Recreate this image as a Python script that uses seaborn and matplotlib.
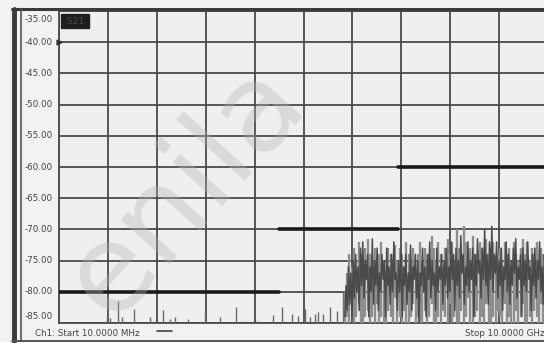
import numpy as np
import pandas as pd
import matplotlib
matplotlib.use("Agg")
import matplotlib.pyplot as plt
import seaborn as sns

# ---------------- data ----------------
start_ghz = 0.01
stop_ghz = 10.0
y_ticks = [-35, -40, -45, -50, -55, -60, -65, -70, -75, -80, -85]

# limit lines (start GHz, stop GHz, level dB)
limit_start = [0.01, 4.5, 6.93]
limit_stop = [4.5, 6.93, 10.0]
limit_level = [-80.0, -70.0, -60.0]

# isolated low-level spurs below ~5.8 GHz
spur_freq = [1.00, 1.06, 1.21, 1.29, 1.55, 1.86, 2.13, 2.27, 2.37, 2.64, 2.99,
             3.29, 3.62, 3.74, 4.05, 4.38, 4.56, 4.76, 4.89, 5.03, 5.14, 5.24,
             5.30, 5.40, 5.54, 5.69, 5.81]
spur_level = [-83.5, -84.2, -81.5, -84.0, -82.7, -84.0, -82.9, -84.3, -84.0,
              -84.3, -83.3, -84.1, -82.5, -84.7, -84.7, -83.7, -82.5, -83.5,
              -83.8, -82.8, -84.0, -83.5, -83.2, -83.6, -82.5, -83.0, -79.9]

noise_start_ghz = 5.85

# per-bin max / min of the noise (light envelope)
noise_peak = [-80, -77, -74, -76, -73, -75, -72, -74, -76, -73, -71.5, -74, -75,
              -73, -76, -74, -72, -75, -77, -73, -74, -76, -72.5, -75, -73, -74,
              -76, -72, -74, -75, -73, -77, -74, -72, -75, -73, -76, -74, -71,
              -73, -75, -72, -74, -76, -73, -71.5, -74, -72, -75, -70, -73, -74,
              -69.5, -72, -75, -73, -71, -74, -76, -72, -73, -75, -71.5, -74,
              -73, -72, -76, -74, -73, -75, -72, -74, -73, -76, -72, -74, -75,
              -73, -71.5, -74, -72, -75, -73, -74, -72, -76, -73, -74, -72, -75]
noise_floor = [-85, -84, -85, -83, -85, -84, -82, -85, -85, -84, -83, -85, -84,
               -85, -82, -85, -84, -85, -85, -83, -84, -85, -81, -85, -84, -85,
               -83, -85, -85, -84, -82, -85, -84, -85, -85, -83, -85, -84, -82,
               -85, -85, -84, -85, -83, -84, -85, -82, -85, -84, -85, -85, -83,
               -85, -84, -81, -85, -85, -84, -83, -85, -84, -85, -82, -85, -85,
               -84, -85, -83, -84, -85, -82, -85, -84, -85, -85, -83, -85, -84,
               -82, -85, -85, -84, -85, -83, -84, -85, -82, -85, -84, -85]

# dense noise trace (dark core)
noise_db = [
    -84, -79, -83, -76, -82, -77, -84, -75, -81, -74, -80, -76,
    -83, -73, -79, -72, -81, -75, -78, -74, -84, -76, -80, -71.5, -82, -75,
    -79, -73, -83, -77, -80, -74, -78, -75, -84, -73, -79, -76, -82, -74,
    -80, -72, -78, -77, -83,
    -75, -80, -73, -84, -76, -79, -74, -82, -77, -80, -72.5, -83, -76, -78,
    -74, -81, -75, -85, -77, -79, -73, -80, -76, -84, -74, -78, -72, -81,
    -75, -79, -77, -83, -73, -80, -76, -78, -74, -82, -75, -79, -73, -81,
    -76, -80, -72, -78, -74, -83, -73, -79, -75, -81, -71, -77, -74, -82,
    -76, -79, -72, -80, -75, -78, -73, -84, -74, -79, -71.5, -77, -75, -81,
    -73, -78, -70, -79, -74, -82, -72, -78, -69.5, -80, -74, -77, -72, -81,
    -75, -79, -73, -83, -76, -78, -72, -80, -74, -82, -75, -79, -73, -77,
    -71.5, -81, -76, -78, -74, -84, -73, -79, -75, -80, -72, -78, -76, -83,
    -74, -79, -73, -81, -75, -78, -72, -80, -76, -82, -74, -79, -73, -80,
]

# ---------------- figure ----------------
sns.set_theme(style="white")
plt.rcParams['font.family'] = ['DejaVu Sans']

W, H = 544, 343
fig = plt.figure(figsize=(W / 100, H / 100), dpi=100)
fig.patch.set_facecolor("#f2f2f2")


def fx(px):
    return px / W


def fy(py):
    return 1 - py / H


# outer frame pieces
fig.add_artist(plt.Line2D([fx(12), fx(544)], [fy(9), fy(9)], color="#3a3a3a", lw=2.2))
fig.add_artist(plt.Line2D([fx(14), fx(14)], [fy(9), fy(341)], color="#3a3a3a", lw=3.5))
fig.add_artist(plt.Line2D([fx(20.5), fx(20.5)], [fy(9), fy(341)], color="#555555", lw=1.2))
fig.add_artist(plt.Line2D([fx(12), fx(544)], [fy(340.5), fy(340.5)], color="#555555", lw=1.4))
fig.add_artist(plt.Rectangle((0, 0), 1, fy(341.5), color="white", zorder=0))

ax_left, ax_right = 59, 548
ax_top, ax_bot = 11, 323
ax = fig.add_axes([fx(ax_left), fy(ax_bot), (ax_right - ax_left) / W, (ax_bot - ax_top) / H])
ax.set_facecolor("#efefef")

ax.set_xlim(start_ghz, stop_ghz)
ax.set_ylim(-85, -35)
ax.set_xticks(np.linspace(start_ghz, stop_ghz, 11))
ax.set_yticks(y_ticks)
ax.set_xticklabels([])
ax.set_yticklabels([])
ax.tick_params(length=0)
ax.grid(True, color="#4a4a4a", lw=1.3)
ax.set_axisbelow(True)
for s in ax.spines.values():
    s.set_color("#4a4a4a")
    s.set_linewidth(1.3)

# spurs
ax.vlines(spur_freq, -85.5, spur_level, color="#6a6a6a", lw=1.0, zorder=3)

# noise envelope (light streaks)
env_f = np.linspace(noise_start_ghz, stop_ghz, len(noise_peak))
ax.vlines(env_f, noise_floor, noise_peak, color="#8e8e8e", lw=1.7, zorder=3)

# dense noise trace
noise_df = pd.DataFrame({
    "freq": np.linspace(noise_start_ghz, stop_ghz, len(noise_db)),
    "db": noise_db,
})
sns.lineplot(data=noise_df, x="freq", y="db", ax=ax, color="#4a4a4a", lw=1.1,
             estimator=None, sort=False, zorder=3)

# limit lines
for a, b, lv in zip(limit_start, limit_stop, limit_level):
    lim_df = pd.DataFrame({"freq": [a, b], "db": [lv, lv]})
    sns.lineplot(data=lim_df, x="freq", y="db", ax=ax, color="#1a1a1a", lw=2.6,
                 estimator=None, zorder=4)

ax.set_xlabel("")
ax.set_ylabel("")

# y labels
for v in y_ticks:
    yy = v
    va = "center"
    if v == -35:
        yy, va = -35.6, "top"
    if v == -85:
        yy, va = -84.6, "bottom"
    ax.text(-0.012, yy, f"{v:.2f}", transform=ax.get_yaxis_transform(),
            ha="right", va=va, fontsize=6.3, color="#444444")

# reference marker
ax.plot([0.0], [-40], marker=">", ms=3.5, color="#333333", transform=ax.get_yaxis_transform(),
        clip_on=False, zorder=5)

# trace label box
ax.text(0.01, 0.982, " S21 ", transform=ax.transAxes, ha="left", va="top",
        fontsize=6.5, color="#4a4a4a",
        bbox=dict(boxstyle="square,pad=0.3", fc="#1e1e1e", ec="#1e1e1e"))

# bottom annotation
fig.text(fx(35), fy(333), "Ch1: Start 10.0000 MHz", ha="left", va="center",
         fontsize=6.3, color="#444444")
fig.add_artist(plt.Line2D([fx(157), fx(172)], [fy(331), fy(331)], color="#444444", lw=1.2))
fig.text(fx(465), fy(333), "Stop 10.0000 GHz", ha="left", va="center",
         fontsize=6.3, color="#444444")

# watermark
fig.text(fx(185), fy(190), "enila", rotation=48, ha="center", va="center",
         fontsize=88, color="#b4b4b4", alpha=0.35, zorder=10)

fig.savefig("out.png", dpi=100)
